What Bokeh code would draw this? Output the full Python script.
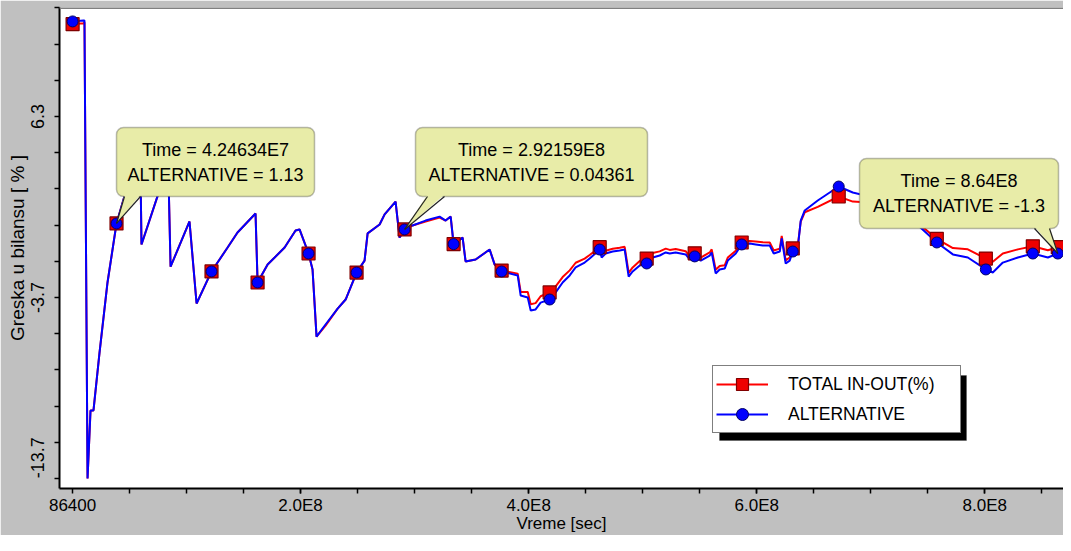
import numpy as np
from bokeh.plotting import figure
from bokeh.models import Range1d, FixedTicker, BoxAnnotation, Legend, LegendItem, Span
from bokeh.embed import file_html
from bokeh.resources import INLINE
from bokeh.core.properties import value

# ---------------- data (time in millions of seconds, values in %) ----------------
TIME_MS = [0.0864, 9.6, 10.5, 13.2, 15.8, 18.4, 23.7, 30.7, 38.6, 46.5,
           59.6, 60.5, 77.2, 84.2, 86.0, 102.6, 108.8, 121.9, 136.0, 144.7,
           160.5, 162.3, 171.1, 186.0, 195.6, 199.1, 207.0, 210.5, 214.0, 221.9,
           232.5, 239.5, 249.1, 256.1, 258.8, 269.3, 273.7, 283.3, 286.8, 291.2,
           298.2, 309.6, 321.9, 327.2, 331.6, 334.2, 342.1, 344.7, 353.5, 365.8,
           370.2, 376.3, 390.4, 393.0, 399.2, 401.8, 406.1, 410.5, 418.4, 423.7,
           429.8, 436.0, 441.2, 449.1, 453.5, 462.3, 464.0, 467.5, 473.7, 479.8,
           484.2, 487.7, 491.2, 497.4, 503.5, 508.8, 514.9, 520.2, 523.7, 528.9,
           537.7, 541.2, 545.6, 550.9, 558.8, 560.5, 564.0, 567.5, 571.9, 574.6,
           581.6, 586.8, 593.9, 599.1, 605.3, 611.4, 614.9, 620.2, 621.9, 625.4,
           628.9, 631.6, 636.0, 638.6, 642.1, 653.5, 671.9, 684.2, 701.8, 719.3,
           736.8, 757.9, 772.0, 785.1, 800.9, 807.0, 815.8, 829.0, 842.1, 855.3,
           864.0]

ALTERNATIVE = [11.55, 11.60, 11.60, -13.70, -9.94, -9.94, -6.74, -2.87, 0.39, 2.10,
               3.50, -0.77, 2.40, 2.90, -2.00, 0.50, -4.03, -2.26, -0.94, -0.11,
               0.94, -2.87, -1.88, -0.94, 0.00, 0.06, -1.27, -2.15, -5.86, -5.19,
               -4.31, -3.81, -2.32, -1.66, -0.16, 0.33, 0.89, 1.60, -0.39, 0.06,
               0.28, 0.55, 0.77, 0.55, 0.77, -0.75, -0.39, -1.71, -1.60, -1.05,
               -1.88, -2.26, -2.48, -3.59, -3.70, -4.42, -4.36, -3.98, -3.81, -3.42,
               -2.87, -2.48, -2.04, -1.77, -1.55, -1.05, -1.49, -1.27, -1.16, -1.10,
               -1.05, -2.54, -2.26, -1.93, -1.82, -1.49, -1.38, -1.21, -1.27, -1.21,
               -1.32, -1.60, -1.43, -1.66, -1.38, -1.21, -2.37, -2.15, -2.10, -1.66,
               -1.27, -0.77, -0.72, -0.77, -0.83, -0.83, -1.27, -1.16, -0.44, -1.82,
               -1.66, -1.16, -0.94, 0.55, 1.11, 1.66, 2.43, 2.10, 1.83, 1.27,
               0.55, -0.66, -1.32, -1.49, -2.15, -2.32, -1.77, -1.49, -1.27, -1.49,
               -1.27]

TOTAL_IN_OUT = [11.40, 11.45, 11.50, -13.70, -9.94, -9.94, -6.74, -2.87, 0.39, 2.10,
                3.50, -0.77, 2.40, 2.90, -2.00, 0.50, -4.03, -2.26, -0.94, -0.11,
                0.94, -2.87, -1.88, -0.94, 0.00, 0.06, -1.27, -2.15, -5.86, -5.25,
                -4.31, -3.81, -2.32, -1.66, -0.16, 0.33, 0.89, 1.60, -0.39, 0.06,
                0.28, 0.50, 0.72, 0.55, 0.77, -0.75, -0.39, -1.71, -1.60, -1.05,
                -1.88, -2.21, -2.38, -3.39, -3.40, -4.07, -4.01, -3.63, -3.42, -3.09,
                -2.57, -2.20, -1.78, -1.55, -1.35, -0.92, -1.34, -1.12, -1.01, -0.95,
                -0.90, -2.34, -2.04, -1.68, -1.55, -1.24, -1.15, -1.00, -1.07, -1.02,
                -1.14, -1.43, -1.26, -1.49, -1.21, -1.04, -2.17, -1.96, -1.92, -1.49,
                -1.12, -0.66, -0.58, -0.60, -0.65, -0.66, -1.10, -1.00, -0.30, -1.65,
                -1.49, -0.99, -0.84, 0.50, 1.01, 1.31, 1.88, 1.60, 1.53, 1.17,
                0.65, -0.46, -0.97, -1.04, -1.55, -1.72, -1.27, -1.04, -0.87, -1.09,
                -0.92]

MARKER_IDX = [0, 8, 12, 17, 21, 26, 32, 39, 45, 51, 58, 65, 74, 82, 91, 101, 106,
              109, 111, 114, 118, 120]

CALLOUT_IDX = [8, 39, 120]
CALLOUT_TIME_TEXT = ["4.24634E7", "2.92159E8", "8.64E8"]
CALLOUT_VALUE_TEXT = ["1.13", "0.04361", "-1.3"]

X_TICKS = [86400, 200000000, 400000000, 600000000, 800000000]
X_TICK_LABELS = ["86400", "2.0E8", "4.0E8", "6.0E8", "8.0E8"]
Y_TICKS = [6.3, -3.7, -12.55]
Y_TICK_LABELS = ["6.3", "-3.7", "-13.7"]
X_TITLE = "Vreme [sec]"
Y_TITLE = "Greska u bilansu [ % ]"
SERIES_NAMES = ["TOTAL IN-OUT(%)", "ALTERNATIVE"]

# ---------------- layout / style ----------------
FONT = "Liberation Sans"
X0, X1 = -1.14e7, 8.69e8
Y0, Y1 = -14.25, 12.32
FW, FH = 1004, 481          # plot frame size in px

def fx(px):
    return X0 + px * (X1 - X0) / FW

def fy(py):
    return Y1 - py * (Y1 - Y0) / FH

# callout boxes in frame pixels: left, top, width, height, pointer base x0, x1
CALLOUT_BOX = [(57, 120, 198, 69, 65, 81),
               (356, 120, 232, 69, 368, 385),
               (800, 151, 199, 70, 975, 990)]
CALLOUT_FILL = "#e8eca8"

t = np.array(TIME_MS) * 1e6
alt = np.array(ALTERNATIVE)
tot = np.array(TOTAL_IN_OUT)
mi = np.array(MARKER_IDX)

p = figure(width=1063, height=535, output_backend="svg", toolbar_location=None,
           x_range=Range1d(X0, X1), y_range=Range1d(Y0, Y1),
           min_border_left=59, min_border_right=0, min_border_top=7, min_border_bottom=47,
           background_fill_color="white", border_fill_color="#c0c0c0",
           outline_line_color=None)
p.grid.visible = False
p.add_layout(Span(location=Y1, dimension="width", line_color="#808080", line_width=3))

for ax in (p.xaxis[0], p.yaxis[0]):
    ax.axis_line_color = "black"
    ax.axis_line_width = 2
    ax.major_tick_in = 0
    ax.major_tick_out = 5
    ax.minor_tick_in = 0
    ax.minor_tick_out = 5
    ax.major_tick_line_color = "black"
    ax.minor_tick_line_color = "black"
    ax.major_tick_line_width = 1.5
    ax.minor_tick_line_width = 1.5
    ax.major_label_text_font = FONT
    ax.major_label_text_color = "black"
    ax.axis_label_text_font = FONT
    ax.axis_label_text_font_style = "normal"
    ax.axis_label_text_color = "black"

xa = p.xaxis[0]
xa.ticker = FixedTicker(ticks=X_TICKS, minor_ticks=[k * 5e7 for k in range(1, 18)])
xa.major_label_overrides = dict(zip(X_TICKS, X_TICK_LABELS))
xa.major_label_text_font_size = "17px"
xa.major_label_standoff = 2
xa.axis_label = X_TITLE
xa.axis_label_text_font_size = "17px"
xa.axis_label_standoff = -4

ya = p.yaxis[0]
ya.ticker = FixedTicker(ticks=Y_TICKS, minor_ticks=[6.3 - 2 * k for k in range(-3, 11)])
ya.major_label_overrides = dict(zip(Y_TICKS, Y_TICK_LABELS))
ya.major_tick_line_alpha = 0
ya.major_label_orientation = "vertical"
ya.major_label_text_font_size = "18px"
ya.major_label_standoff = 10
ya.axis_label = Y_TITLE
ya.axis_label_text_font_size = "19px"
ya.axis_label_standoff = 1

red_line = p.line(t, tot, line_color="#ff0000", line_width=2)
blue_line = p.line(t, alt, line_color="#0000ff", line_width=2)
red_sq = p.scatter(t[mi], tot[mi], marker="square", size=13,
                   fill_color="#ee0000", line_color="#800000", line_width=1.2)
blue_ci = p.scatter(t[mi], alt[mi], marker="circle", size=11,
                    fill_color="#0000ff", line_color="#000066", line_width=1)

# legend shadow + legend
p.add_layout(BoxAnnotation(left=fx(660), right=fx(907), top=fy(368), bottom=fy(433),
                           fill_color="black", fill_alpha=1, line_color="#404040",
                           line_width=1))
legend = Legend(items=[LegendItem(label=SERIES_NAMES[0], renderers=[red_line, red_sq]),
                       LegendItem(label=SERIES_NAMES[1], renderers=[blue_line, blue_ci])],
                location=(653, 55), margin=0, padding=3, spacing=0,
                glyph_width=52, glyph_height=30, label_height=30, label_width=169,
                label_standoff=20,
                border_line_color="black", border_line_width=1.5,
                background_fill_color="white", background_fill_alpha=1,
                label_text_font=FONT, label_text_font_size="17.5px",
                label_text_color="black")
p.add_layout(legend)

# callouts
for idx, tt, vt, (bl, bt, bw, bh, b0, b1) in zip(CALLOUT_IDX, CALLOUT_TIME_TEXT,
                                                CALLOUT_VALUE_TEXT, CALLOUT_BOX):
    ax_, ay_ = t[idx], alt[idx]
    p.add_layout(BoxAnnotation(left=fx(bl), right=fx(bl + bw), top=fy(bt), bottom=fy(bt + bh),
                               fill_color=CALLOUT_FILL, fill_alpha=1, line_color="#222222",
                               line_width=1.5, border_radius=7))
    p.patch([fx(b0), ax_, fx(b1)], [fy(bt + bh - 2), ay_, fy(bt + bh - 2)],
            fill_color=CALLOUT_FILL, line_color=None, level="overlay")
    p.multi_line([[fx(b0), ax_], [fx(b1), ax_]],
                 [[fy(bt + bh), ay_], [fy(bt + bh), ay_]],
                 line_color="#222222", line_width=1.2, level="overlay")
    cx = fx(bl + bw / 2)
    p.text([cx, cx], [fy(bt + bh / 2 - 12.5), fy(bt + bh / 2 + 12.5)],
           text=["Time = " + tt, SERIES_NAMES[1] + " = " + vt],
           text_align="center", text_baseline="middle",
           text_font=value(FONT), text_font_size="18px", text_color="black",
           level="overlay")

open("out.html", "w").write(file_html(p, INLINE))
